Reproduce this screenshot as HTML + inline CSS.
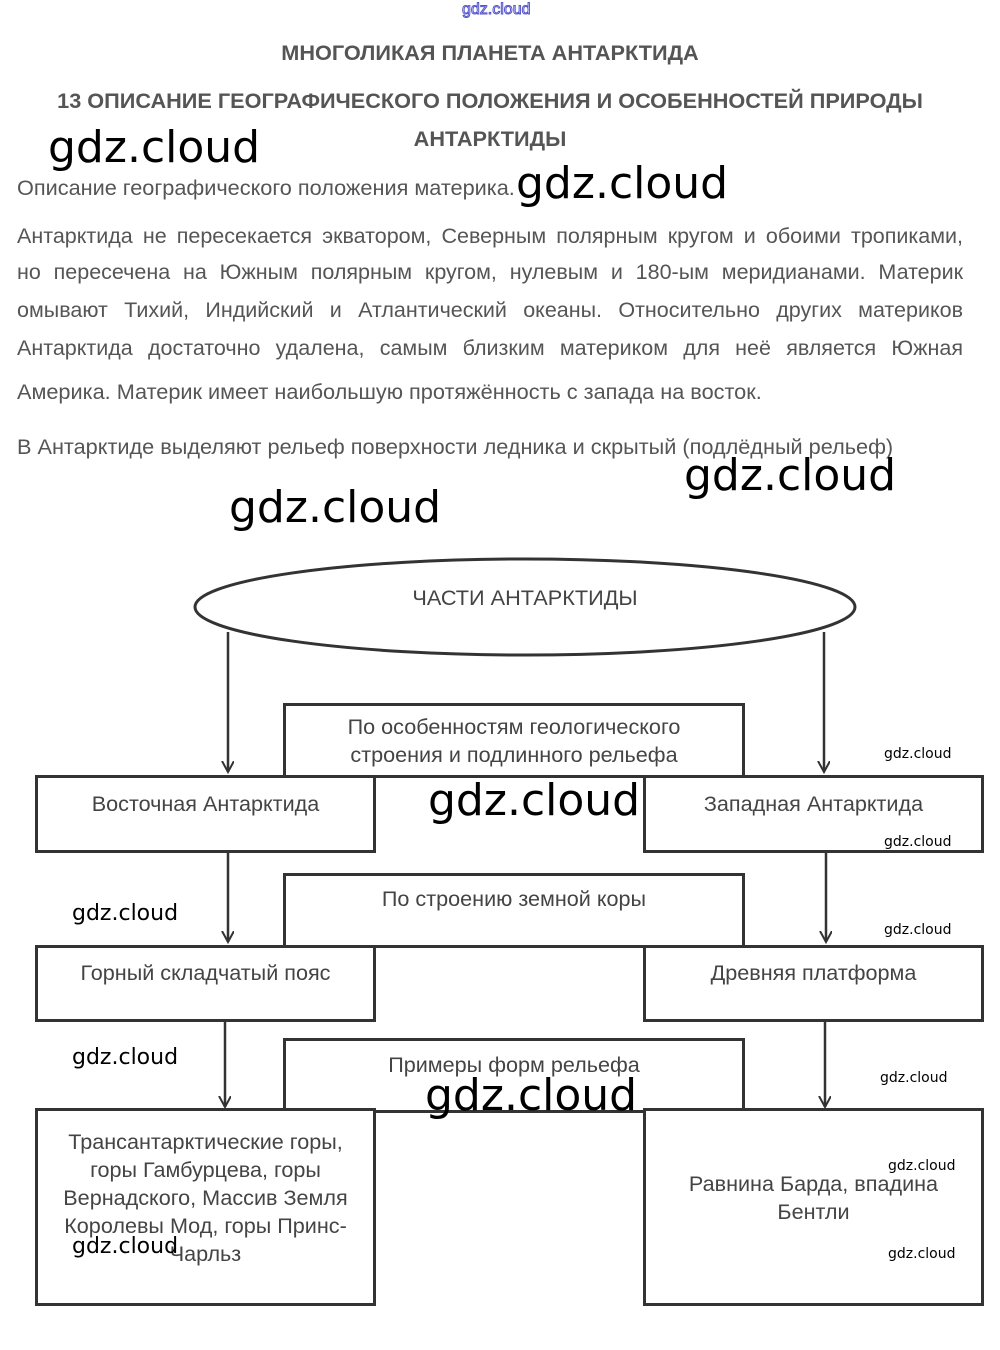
<!DOCTYPE html>
<html><head><meta charset="utf-8">
<style>
body{margin:0;width:1000px;height:1350px;background:#fff;position:relative;overflow:hidden;font-family:"Liberation Sans",sans-serif;color:#555}
.a{position:absolute;white-space:nowrap}
.t{font-weight:bold;font-size:21.7px;color:#555}
.p{font-size:21.5px;left:17px;width:946px;text-align:justify;text-align-last:justify}
.box{position:absolute;border:3px solid #333;background:#fff;box-sizing:border-box;text-align:center;font-size:21.6px;color:#444;line-height:28px;padding-top:12px}
.w{position:absolute;color:#000;font-family:"DejaVu Sans","Liberation Sans",sans-serif;white-space:nowrap}
.L{font-size:44px}.M{font-size:22px}.S{font-size:14px}
</style></head><body>
<div class="a" style="left:462px;top:1px;font-size:16px;color:#fff;-webkit-text-stroke:1px #55c">gdz.cloud</div>
<div class="a t" style="left:0;width:980px;text-align:center;top:40px">МНОГОЛИКАЯ ПЛАНЕТА АНТАРКТИДА</div>
<div class="a t" style="left:0;width:980px;text-align:center;top:88px">13 ОПИСАНИЕ ГЕОГРАФИЧЕСКОГО ПОЛОЖЕНИЯ И ОСОБЕННОСТЕЙ ПРИРОДЫ</div>
<div class="a t" style="left:0;width:980px;text-align:center;top:126px">АНТАРКТИДЫ</div>
<div class="a" style="left:17px;top:175px;font-size:21.7px">Описание географического положения материка.</div>
<div class="a p" style="top:224px">Антарктида не пересекается экватором, Северным полярным кругом и обоими тропиками,</div>
<div class="a p" style="top:260px">но пересечена на Южным полярным кругом, нулевым и 180-ым меридианами. Материк</div>
<div class="a p" style="top:298px">омывают Тихий, Индийский и Атлантический океаны. Относительно других материков</div>
<div class="a p" style="top:336px">Антарктида достаточно удалена, самым близким материком для неё является Южная</div>
<div class="a" style="left:17px;top:379px;font-size:21.7px">Америка. Материк имеет наибольшую протяжённость с запада на восток.</div>
<div class="a" style="left:17px;top:434px;font-size:21.7px">В Антарктиде выделяют рельеф поверхности ледника и скрытый (подлёдный рельеф)</div>

<svg class="a" style="left:0;top:0" width="1000" height="1350">
<defs><marker id="ar" markerWidth="14" markerHeight="14" refX="11" refY="6" orient="auto" markerUnits="userSpaceOnUse"><path d="M0,0 L11,6 L0,12" fill="none" stroke="#333" stroke-width="2"/></marker></defs>
<ellipse cx="525" cy="607" rx="330" ry="48" fill="#fff" stroke="#333" stroke-width="3"/>
<g stroke="#333" stroke-width="2.5" marker-end="url(#ar)">
<line x1="228" y1="632" x2="228" y2="772"/><line x1="824" y1="632" x2="824" y2="772"/>
<line x1="228" y1="852" x2="228" y2="942"/><line x1="826" y1="852" x2="826" y2="942"/>
<line x1="225" y1="1021" x2="225" y2="1107"/><line x1="825" y1="1021" x2="825" y2="1107"/>
</g>
</svg>
<div class="a" style="left:0;width:1050px;text-align:center;top:585px;font-size:21.7px;color:#444">ЧАСТИ АНТАРКТИДЫ</div>

<div class="box" style="left:283px;top:703px;width:462px;height:75px;padding-top:7px">По особенностям геологического<br>строения и подлинного рельефа</div>
<div class="box" style="left:35px;top:775px;width:341px;height:78px;padding-top:12px">Восточная Антарктида</div>
<div class="box" style="left:643px;top:775px;width:341px;height:78px;padding-top:12px">Западная Антарктида</div>
<div class="box" style="left:283px;top:873px;width:462px;height:75px;padding-top:9px">По строению земной коры</div>
<div class="box" style="left:35px;top:945px;width:341px;height:77px;padding-top:11px">Горный складчатый пояс</div>
<div class="box" style="left:643px;top:945px;width:341px;height:77px;padding-top:11px">Древняя платформа</div>
<div class="box" style="left:283px;top:1038px;width:462px;height:75px;padding-top:10px">Примеры форм рельефа</div>
<div class="box" style="left:35px;top:1108px;width:341px;height:198px;padding-top:17px">Трансантарктические горы,<br>горы Гамбурцева, горы<br>Вернадского, Массив Земля<br>Королевы Мод, горы Принс-<br>Чарльз</div>
<div class="box" style="left:643px;top:1108px;width:341px;height:198px;padding-top:59px">Равнина Барда, впадина<br>Бентли</div>

<div class="w L" style="left:48px;top:122px">gdz.cloud</div>
<div class="w L" style="left:516px;top:158px">gdz.cloud</div>
<div class="w L" style="left:684px;top:450px">gdz.cloud</div>
<div class="w L" style="left:229px;top:482px">gdz.cloud</div>
<div class="w L" style="left:428px;top:775px">gdz.cloud</div>
<div class="w L" style="left:425px;top:1070px">gdz.cloud</div>
<div class="w M" style="left:72px;top:901px">gdz.cloud</div>
<div class="w M" style="left:72px;top:1045px">gdz.cloud</div>
<div class="w M" style="left:72px;top:1234px">gdz.cloud</div>
<div class="w S" style="left:884px;top:746px">gdz.cloud</div>
<div class="w S" style="left:884px;top:834px">gdz.cloud</div>
<div class="w S" style="left:884px;top:922px">gdz.cloud</div>
<div class="w S" style="left:880px;top:1070px">gdz.cloud</div>
<div class="w S" style="left:888px;top:1158px">gdz.cloud</div>
<div class="w S" style="left:888px;top:1246px">gdz.cloud</div>
</body></html>
